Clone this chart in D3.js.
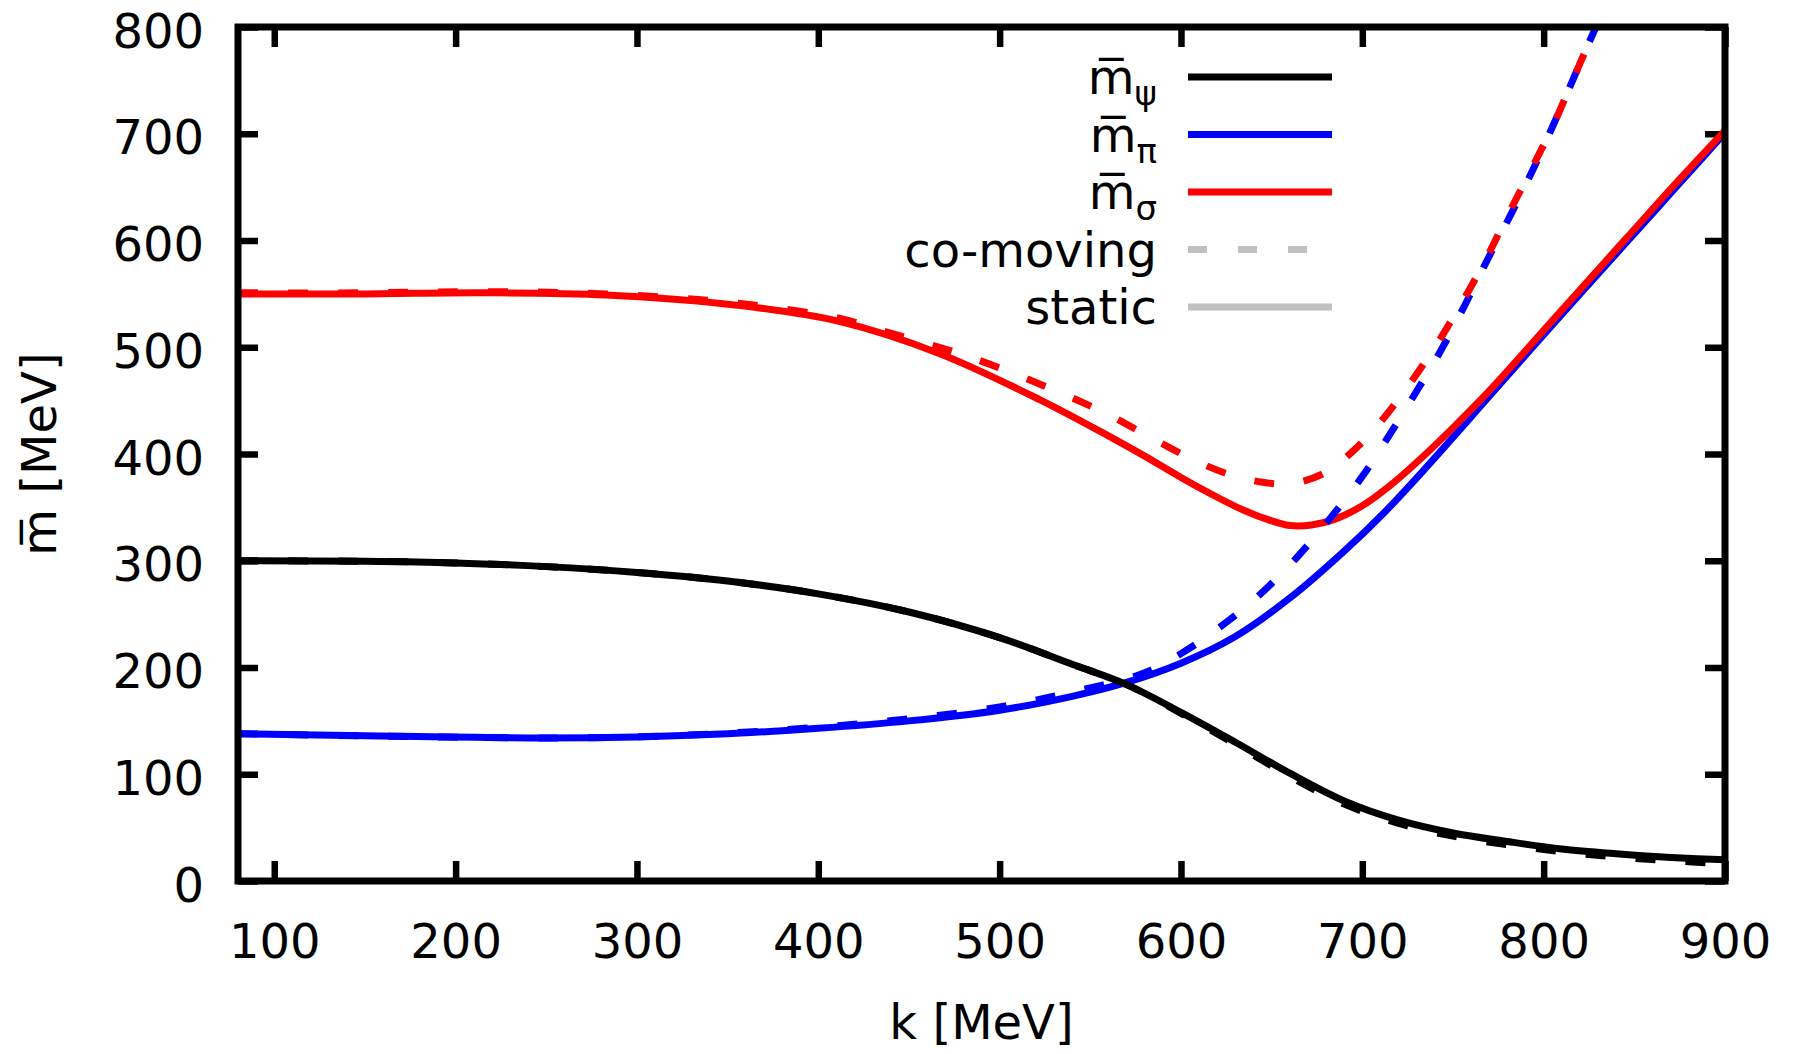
<!DOCTYPE html>
<html>
<head>
<meta charset="utf-8">
<script src="https://cdn.jsdelivr.net/npm/d3@7"></script>
<style>
  body { margin: 0; background: #fff; }
  text { font-family: "DejaVu Sans", sans-serif; fill: #000; }
</style>
</head>
<body>
<svg id="chart" width="1794" height="1054"></svg>
<script>
// Axis ticks
const xTicks = [100, 200, 300, 400, 500, 600, 700, 800, 900];
const yTicks = [0, 100, 200, 300, 400, 500, 600, 700, 800];

// Curves: [k in MeV, mass in MeV]
const psiStatic = [[80,300],[150,299.5],[200,298],[250,294.5],[300,289],[350,281],[400,269],[450,252],[500,228],[540,203],[570,184],[600,158],[630,130],[660,101],[690,75],[720,57],[750,45],[780,37],[810,30],[840,25.5],[870,22],[900,20]];
const psiComoving = [[80,300],[150,299.5],[200,298],[250,294.5],[300,289],[350,281],[400,269],[450,252],[500,228],[540,203],[570,184],[600,157],[630,128],[660,98],[690,72],[720,54],[750,42],[780,34],[810,27.5],[840,22.5],[870,19],[900,16]];
const piStatic = [[80,138],[150,136],[250,134],[300,135],[350,138],[400,143],[450,150],[500,160],[540,173],[570,186],[600,204],[630,229],[660,265],[690,309],[712,345],[735,387],[771,456],[808,527],[845,597],[872,648],[900,701]];
const piComoving = [[80,138],[150,136],[250,134],[300,135],[350,138.5],[400,144],[450,152],[500,163],[540,177],[580,195],[600,213],[620,236],[640,263],[660,296],[680,335],[700,379],[715,418],[730,459],[744,499],[757,541],[769,582],[783,628],[794,666],[805,707],[816,750],[827,793],[835,822]];
const sigmaStatic = [[80,550],[150,550],[215,551],[283,549],[357,539],[412,524],[467,494],[522,451],[560,417],[580,398],[600,378],[620,359.5],[635,347],[648,338.5],[660,333],[672,333.5],[685,339],[700,351.5],[715,370],[735,400],[752,428],[771,461],[808,531],[845,601],[872,652],[900,703]];
const sigmaComoving = [[80,551],[150,551],[215,552],[283,550],[357,541],[412,527],[434,516],[485,490],[538,454],[562,435],[586,413],[610,392],[630,379],[645,373.5],[655,372],[665,373.5],[680,383],[695,403],[710,430],[725,463],[740,500],[755,542],[768,582],[780,623],[793,666],[805,707],[816,750],[827,793],[835,822]];

// Legend entries
const legendNames = ["ψ", "π", "σ", "co-moving", "static"];
const legendColors = ["#000000", "#0000ff", "#ff0000", "#c0c0c0", "#c0c0c0"];
const legendDashed = [false, false, false, true, false];

const svg = d3.select("#chart");
const X0 = 238, X1 = 1725, Y0 = 27, Y1 = 881;
const x = d3.scaleLinear().domain([80, 900]).range([X0, X1]);
const y = d3.scaleLinear().domain([0, 800]).range([Y1, Y0]);

const TICK = 20, LW = 6.5, FS = 48;
const colors = { black: "#000000", blue: "#0000ff", red: "#ff0000" };
const MBAR = "m\u0305";

svg.append("defs").append("clipPath").attr("id", "plotClip")
  .append("rect").attr("x", X0).attr("y", Y0).attr("width", X1 - X0).attr("height", Y1 - Y0);

// Axes with inward ticks on all four sides
function styleAxis(g) {
  g.select(".domain").remove();
  g.selectAll(".tick line").attr("stroke", "#000").attr("stroke-width", LW);
  g.selectAll(".tick text").attr("font-size", FS).attr("font-family", "DejaVu Sans");
}
svg.append("g").attr("transform", `translate(0,${Y1})`)
  .call(d3.axisBottom(x).tickValues(xTicks).tickSizeInner(-TICK).tickSizeOuter(0).tickPadding(43))
  .call(styleAxis);
svg.append("g").attr("transform", `translate(0,${Y0})`)
  .call(d3.axisTop(x).tickValues(xTicks).tickSizeInner(-TICK).tickSizeOuter(0).tickFormat(""))
  .call(styleAxis);
svg.append("g").attr("transform", `translate(${X0},0)`)
  .call(d3.axisLeft(y).tickValues(yTicks).tickSizeInner(-TICK).tickSizeOuter(0).tickPadding(34))
  .call(styleAxis)
  .call(g => g.selectAll(".tick text").attr("dy", "0.42em"));
svg.append("g").attr("transform", `translate(${X1},0)`)
  .call(d3.axisRight(y).tickValues(yTicks).tickSizeInner(-TICK).tickSizeOuter(0).tickFormat(""))
  .call(styleAxis);

// Curves
const line = d3.line().x(d => x(d[0])).y(d => y(d[1])).curve(d3.curveCatmullRom.alpha(0.5));
const curves = [
  { data: piStatic, color: colors.blue, dashed: false },
  { data: sigmaStatic, color: colors.red, dashed: false },
  { data: psiStatic, color: colors.black, dashed: false },
  { data: piComoving, color: colors.blue, dashed: true },
  { data: sigmaComoving, color: colors.red, dashed: true },
  { data: psiComoving, color: colors.black, dashed: true }
];
const plot = svg.append("g").attr("clip-path", "url(#plotClip)");
plot.selectAll("path.curve").data(curves).join("path")
  .attr("class", "curve")
  .attr("d", d => line(d.data))
  .attr("fill", "none")
  .attr("stroke", d => d.color)
  .attr("stroke-width", 7)
  .attr("stroke-dasharray", d => d.dashed ? "20,30" : null);

// Frame
svg.append("rect").attr("x", X0).attr("y", Y0).attr("width", X1 - X0).attr("height", Y1 - Y0)
  .attr("fill", "none").attr("stroke", "#000").attr("stroke-width", 7);

// Axis titles
svg.append("text").attr("x", (X0 + X1) / 2).attr("y", 1039)
  .attr("text-anchor", "middle").attr("font-size", FS).text("k [MeV]");
svg.append("text").attr("transform", `translate(56,${(Y0 + Y1) / 2}) rotate(-90)`)
  .attr("text-anchor", "middle").attr("font-size", FS).text(MBAR + " [MeV]");

// Legend
const legendRowY = d3.scaleLinear().domain([0, 4]).range([77, 307]);
const legend = svg.append("g");
legendNames.forEach((name, i) => {
  const ly = legendRowY(i);
  const t = legend.append("text").attr("x", 1157).attr("y", ly + 17)
    .attr("text-anchor", "end").attr("font-size", FS);
  if (i < 3) {
    t.append("tspan").text(MBAR);
    t.append("tspan").attr("font-size", 34).attr("dy", 11).text(name);
  } else {
    t.text(name);
  }
  legend.append("line").attr("x1", 1188).attr("x2", 1332).attr("y1", ly).attr("y2", ly)
    .attr("stroke", legendColors[i]).attr("stroke-width", 7)
    .attr("stroke-dasharray", legendDashed[i] ? "19,31" : null);
});
</script>
</body>
</html>
